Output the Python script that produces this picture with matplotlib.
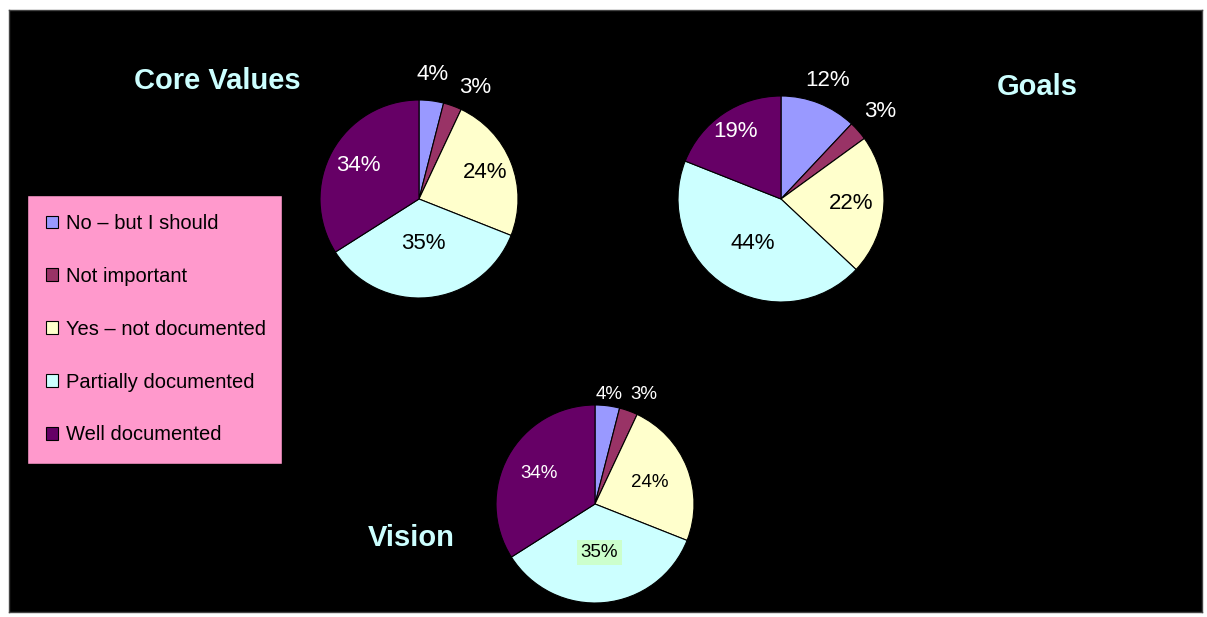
import matplotlib.pyplot as plt
import numpy as np

plt.rcParams['font.family'] = ['Liberation Sans', 'DejaVu Sans']

categories = ["No \u2013 but I should", "Not important", "Yes \u2013 not documented",
              "Partially documented", "Well documented"]
core_values = [4, 3, 24, 35, 34]
goals = [12, 3, 22, 44, 19]
vision = [4, 3, 24, 35, 34]
colors = ["#9999FF", "#993366", "#FFFFCC", "#CCFFFF", "#660066"]

W, H = 1207, 617
fig = plt.figure(figsize=(W / 100, H / 100), dpi=100, facecolor="white")

# black background panel
bg = fig.add_axes([9 / W, 1 - 612 / H, (1202 - 9) / W, (612 - 10) / H])
bg.set_facecolor("black")
bg.set_xticks([])
bg.set_yticks([])
for s in bg.spines.values():
    s.set_color("#444444")
    s.set_linewidth(1)


def pie_at(cx, cy, r, vals, dists, shifts, fs, label_colors, boxed=None):
    ax = fig.add_axes([(cx - r) / W, 1 - (cy + r) / H, 2 * r / W, 2 * r / H])
    wedges, _ = ax.pie(vals, colors=colors, startangle=90, counterclock=False,
                       radius=1, wedgeprops=dict(edgecolor="black", linewidth=0.8))
    ax.set_xlim(-1, 1)
    ax.set_ylim(-1, 1)
    ax.set_aspect("equal")
    ax.axis("off")
    for i, w in enumerate(wedges):
        th = np.deg2rad((w.theta1 + w.theta2) / 2 + shifts[i])
        d = dists[i]
        kw = {}
        if boxed == i:
            kw["bbox"] = dict(facecolor="#CCFFCC", edgecolor="none", pad=3)
        ax.text(d * np.cos(th), d * np.sin(th), f"{vals[i]}%", ha="center", va="center",
                fontsize=fs, color=label_colors[i], **kw)
    return wedges


lab_cols = ["white", "white", "black", "black", "white"]
wedges = pie_at(419, 199, 99, core_values, [1.27, 1.26, 0.72, 0.45, 0.70],
                [1, -7, 0, 0, 0], 16, lab_cols)
pie_at(781, 199, 103, goals, [1.24, 1.29, 0.68, 0.51, 0.79],
       [0, 0, 0, 0, 0], 16, lab_cols)
pie_at(595, 504, 99, vision, [1.11, 1.21, 0.60, 0.49, 0.64],
       [0, -4.5, 0, 0, 0], 13.5, lab_cols, boxed=3)

title_kw = dict(color="#CCFFFF", fontsize=21, fontweight="bold", ha="center", va="center")
fig.text(217 / W, 1 - 81 / H, "Core Values", **title_kw)
fig.text(1037 / W, 1 - 87 / H, "Goals", **title_kw)
fig.text(411 / W, 1 - 538 / H, "Vision", **title_kw)

leg = fig.legend(wedges, categories, loc="upper left",
                 bbox_to_anchor=(27 / W, 1 - 195 / H, (282 - 27) / W, 0), mode="expand",
                 fontsize=14.5, frameon=True, facecolor="#FF99CC", edgecolor="black",
                 fancybox=False, framealpha=1, labelspacing=1.68, borderpad=0.95,
                 handlelength=0.6, handleheight=0.6, handletextpad=0.4,
                 borderaxespad=0)
leg.get_frame().set_linewidth(1)

fig.savefig("out.png", dpi=100, facecolor="white")
